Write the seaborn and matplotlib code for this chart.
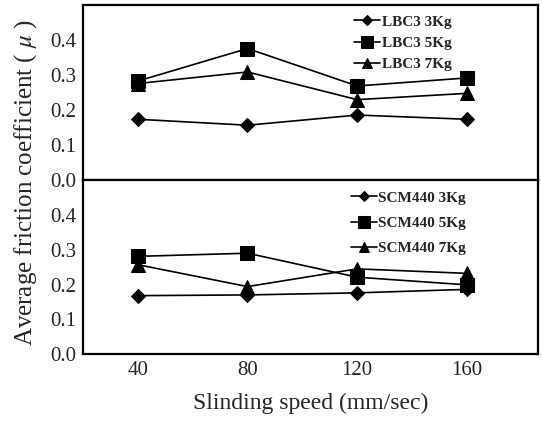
import matplotlib
matplotlib.use("Agg")
import matplotlib.pyplot as plt
import seaborn as sns
import pandas as pd

speeds = [40, 80, 120, 160]
lbc3_3kg = [0.174, 0.157, 0.186, 0.174]
lbc3_5kg = [0.283, 0.376, 0.269, 0.292]
lbc3_7kg = [0.276, 0.309, 0.230, 0.248]
scm_3kg = [0.168, 0.170, 0.176, 0.186]
scm_5kg = [0.281, 0.290, 0.221, 0.199]
scm_7kg = [0.257, 0.194, 0.245, 0.232]

top_labels = ["LBC3 3Kg", "LBC3 5Kg", "LBC3 7Kg"]
bot_labels = ["SCM440 3Kg", "SCM440 5Kg", "SCM440 7Kg"]
yticks = [0.0, 0.1, 0.2, 0.3, 0.4]

sns.set_style("white")
plt.rcParams["font.family"] = ["Liberation Serif", "DejaVu Serif"]
plt.rcParams["mathtext.fontset"] = "stix"

def longform(labels, series):
    rows = []
    for lab, vals in zip(labels, series):
        for s, v in zip(speeds, vals):
            rows.append({"speed": s, "mu": v, "series": lab})
    return pd.DataFrame(rows)

fig = plt.figure(figsize=(5.42, 4.24), dpi=100)
ax_top = fig.add_axes([0.153, 0.575, 0.840, 0.413])
ax_bot = fig.add_axes([0.153, 0.165, 0.840, 0.410])

marker_list = ["D", "s", "^"]
sizes = [7, 10.5, 9.5]

for ax, labels, series, anchor, spacing in [
        (ax_top, top_labels, [lbc3_3kg, lbc3_5kg, lbc3_7kg], (0.83, 0.995), 0.5),
        (ax_bot, bot_labels, [scm_3kg, scm_5kg, scm_7kg], (0.862, 0.99), 0.75)]:
    df = longform(labels, series)
    for lab, m, ms in zip(labels, marker_list, sizes):
        sub = df[df["series"] == lab]
        sns.lineplot(data=sub, x="speed", y="mu", ax=ax, color="black",
                     marker=m, markersize=ms, markeredgecolor="black",
                     linewidth=1.2, label=lab)
    ax.set_xlim(20, 186)
    ax.set_ylim(0, 0.5)
    ax.set_yticks(yticks)
    ax.set_yticklabels([f"{t:.1f}" for t in yticks], fontsize=15)
    ax.set_xlabel("")
    ax.set_ylabel("")
    for sp in ax.spines.values():
        sp.set_linewidth(1.6)
        sp.set_color("black")
    ax.tick_params(axis="both", direction="in", length=0, pad=5)
    leg = ax.legend(loc="upper right", bbox_to_anchor=anchor, frameon=False,
                    prop={"family": "Liberation Serif", "weight": "bold", "size": 11},
                    handlelength=1.7, handletextpad=0.1, labelspacing=spacing,
                    borderaxespad=0.2, markerscale=0.8)

ax_top.set_xticks(speeds)
ax_top.set_xticklabels([])
ax_bot.set_xticks(speeds)
ax_bot.set_xticklabels([str(s) for s in speeds], fontsize=15)
ax_bot.set_xlabel("Slinding speed (mm/sec)", fontsize=17, labelpad=9)
fig.text(0.048, 0.57, "Average friction coefficient ( $\\mu$ )", rotation=90,
         fontsize=18, ha="center", va="center")

fig.savefig("out.png", dpi=100)
